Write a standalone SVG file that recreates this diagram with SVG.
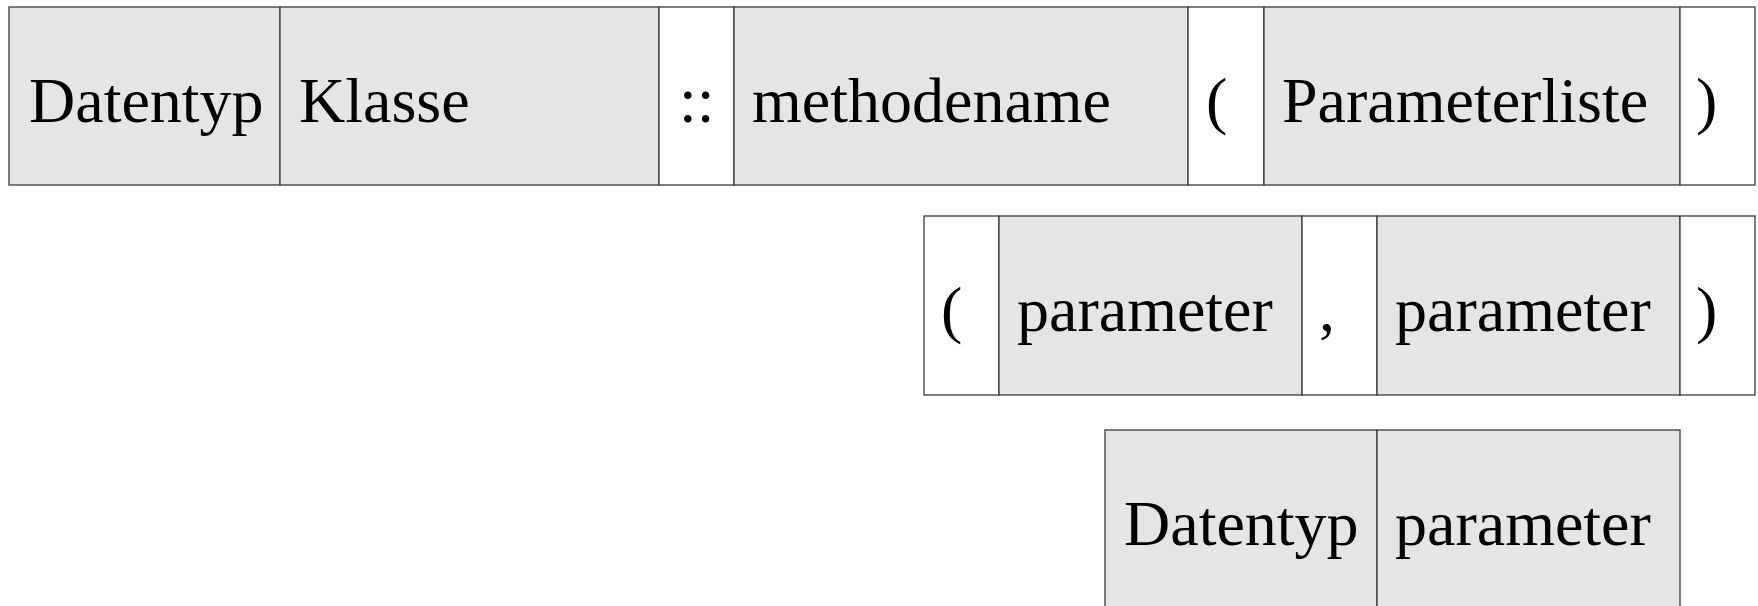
<svg xmlns="http://www.w3.org/2000/svg" width="1758" height="606" viewBox="0 0 1758 606">
  <style>
    .cell rect { stroke: #3a3a3a; stroke-width: 1.3; }
    .term rect { fill: #e5e5e5; }
    .sym rect { fill: #ffffff; }
    .cell text { font-family: "Liberation Serif", "Times New Roman", serif; font-size: 64px; fill: #000000; }
  </style>
  <rect width="1758" height="606" fill="#ffffff"/>

  <!-- Row 1: full method signature -->
  <g id="r1-datentyp" class="cell term"><rect x="9" y="7" width="271" height="178"/><text x="29" y="122">Datentyp</text></g>
  <g id="r1-klasse" class="cell term"><rect x="280" y="7" width="379" height="178"/><text x="299" y="122">Klasse</text></g>
  <g id="r1-scope" class="cell sym"><rect x="659" y="7" width="75" height="178"/><text x="679" y="122">::</text></g>
  <g id="r1-methodename" class="cell term"><rect x="734" y="7" width="454" height="178"/><text x="752" y="122">methodename</text></g>
  <g id="r1-open" class="cell sym"><rect x="1188" y="7" width="76" height="178"/><text x="1206" y="122">(</text></g>
  <g id="r1-parameterliste" class="cell term"><rect x="1264" y="7" width="416" height="178"/><text x="1282" y="122">Parameterliste</text></g>
  <g id="r1-close" class="cell sym"><rect x="1680" y="7" width="75" height="178"/><text x="1696" y="122">)</text></g>

  <!-- Row 2: parameter list -->
  <g id="r2-open" class="cell sym"><rect x="924" y="216" width="75" height="179"/><text x="941" y="331">(</text></g>
  <g id="r2-parameter1" class="cell term"><rect x="999" y="216" width="303" height="179"/><text x="1017" y="331">parameter</text></g>
  <g id="r2-comma" class="cell sym"><rect x="1302" y="216" width="75" height="179"/><text x="1319" y="331">,</text></g>
  <g id="r2-parameter2" class="cell term"><rect x="1377" y="216" width="303" height="179"/><text x="1395" y="331">parameter</text></g>
  <g id="r2-close" class="cell sym"><rect x="1680" y="216" width="75" height="179"/><text x="1696" y="331">)</text></g>

  <!-- Row 3: single parameter -->
  <g id="r3-datentyp" class="cell term"><rect x="1105" y="430" width="272" height="179"/><text x="1124" y="545">Datentyp</text></g>
  <g id="r3-parameter" class="cell term"><rect x="1377" y="430" width="303" height="179"/><text x="1395" y="545">parameter</text></g>
</svg>
